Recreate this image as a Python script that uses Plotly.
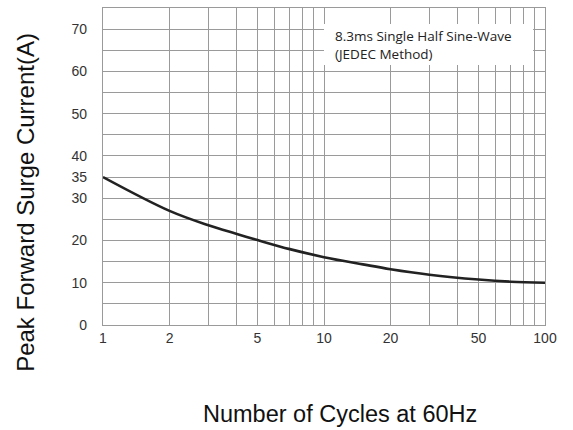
import plotly.graph_objects as go

# Data
cycles = [1, 2, 3, 4, 5, 7, 10, 15, 20, 30, 50, 70, 100]
surge_current = [35, 27.0, 23.6, 21.6, 20.1, 17.95, 16.05, 14.35, 13.2, 11.9, 10.76, 10.25, 10.0]

x_grid_vals = [1, 2, 3, 4, 5, 6, 7, 8, 9, 10, 20, 30, 40, 50, 60, 70, 80, 90, 100]
x_labeled = {1: "1", 2: "2", 5: "5", 10: "10", 20: "20", 50: "50", 100: "100"}
y_grid_vals = [0, 5, 10, 15, 20, 25, 30, 35, 40, 45, 50, 55, 60, 65, 70, 75]
y_labeled = {0: "0", 10: "10", 20: "20", 30: "30", 35: "35", 40: "40", 50: "50", 60: "60", 70: "70"}

note_text = "8.3ms Single Half Sine-Wave<br>(JEDEC Method)"
x_title = "Number of Cycles at 60Hz"
y_title = "Peak Forward Surge Current(A)"

fig = go.Figure()
fig.add_trace(go.Scatter(
    x=cycles, y=surge_current, mode="lines",
    line=dict(color="#222222", width=2.6, shape="spline", smoothing=1),
    showlegend=False, hoverinfo="skip",
))

grid_color = "#9a9a9a"
fig.update_layout(
    width=573, height=430,
    margin=dict(l=103, r=28, t=8, b=105),
    paper_bgcolor="white", plot_bgcolor="white",
    font=dict(family="Liberation Sans, Arial, sans-serif", color="#333333"),
    xaxis=dict(
        type="log", range=[0, 2],
        tickvals=x_grid_vals,
        ticktext=[x_labeled.get(v, "") for v in x_grid_vals],
        tickfont=dict(size=14, color="#333333"),
        showgrid=True, gridcolor=grid_color, gridwidth=1.2,
        showline=True, linecolor=grid_color, linewidth=1.2, mirror=True,
        ticks="", zeroline=False,
    ),
    yaxis=dict(
        range=[0, 75],
        tickvals=y_grid_vals,
        ticktext=[y_labeled.get(v, "") for v in y_grid_vals],
        tickfont=dict(size=14, color="#333333"),
        showgrid=True, gridcolor=grid_color, gridwidth=1.2,
        showline=True, linecolor=grid_color, linewidth=1.2, mirror=True,
        ticks="", zeroline=False, ticklabelstandoff=12,
    ),
)

# white box behind the note
fig.add_shape(
    type="rect", xref="paper", yref="paper",
    x0=0.5, x1=0.973, y0=0.820, y1=0.9495,
    fillcolor="white", line=dict(width=0), layer="above",
)
fig.add_annotation(
    text=note_text, xref="paper", yref="paper",
    x=0.520, y=0.883, xanchor="left", yanchor="middle",
    showarrow=False, align="left",
    font=dict(family="Open Sans, sans-serif", size=13.5, color="#222222"),
)

fig.add_annotation(
    text=x_title, xref="paper", yref="paper",
    x=0.536, y=-0.281, xanchor="center", yanchor="middle",
    showarrow=False, font=dict(size=23.5, color="#111111"),
)
fig.add_annotation(
    text=y_title, xref="paper", yref="paper",
    x=-0.176, y=0.386, xanchor="center", yanchor="middle",
    textangle=-90, showarrow=False, font=dict(size=24, color="#111111"),
)

fig.write_html("out.html", config={"displayModeBar": False},
               post_script="document.body.style.margin='0';")
